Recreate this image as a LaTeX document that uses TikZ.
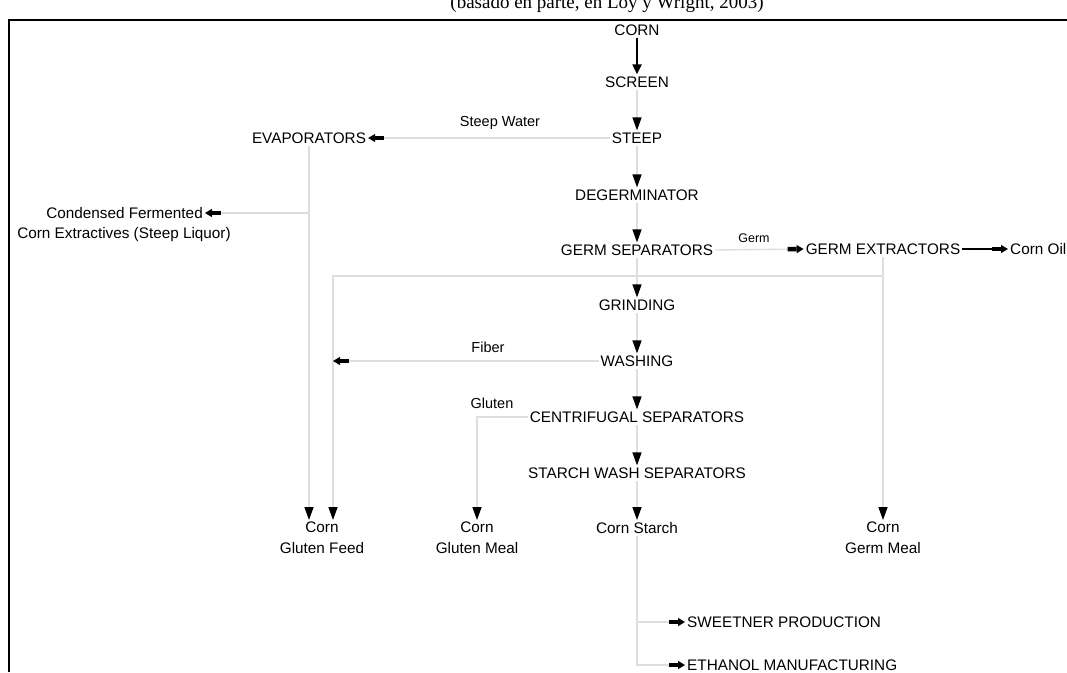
\documentclass[tikz,border=0pt]{standalone}
\usepackage{fontspec}
\setmainfont{Liberation Sans}
\newfontfamily\capfont{Liberation Serif}
\usetikzlibrary{arrows.meta}
\begin{document}
\begin{tikzpicture}[x=1pt,y=1pt,
  lbl/.style={font=\fontsize{15.3}{21}\selectfont, inner sep=2pt, align=center},
  small/.style={font=\fontsize{14.5}{16}\selectfont, inner sep=1pt},
  tiny/.style={font=\fontsize{12.5}{14}\selectfont, inner sep=1pt},
  faint/.style={draw=black!13, line width=1.4pt},
  tipdown/.style={-{Triangle[black,length=13pt,width=9pt]}},
  tipside/.style={-{Rectangle[black,length=9pt,width=4.5pt,sep=0pt]Triangle[black,length=7pt,width=8pt]}},
]
\useasboundingbox (0,0) rectangle (1067,-672);
\fill[white] (0,0) rectangle (1067,-672);

% caption (cut by the top edge)
\node[font=\capfont\fontsize{19}{20}\selectfont, anchor=base, inner sep=0pt] (cap) at (607,-8) {(basado en parte, en Loy y Wright, 2003)};

% frame
\draw[line width=2.5pt] (9,-672) -- (9,-20) -- (1067,-20);

% main column
\node[lbl] (corn) at (637,-30) {CORN};
\node[lbl] (screen) at (637,-82) {SCREEN};
\node[lbl] (steep) at (637,-138) {STEEP};
\node[lbl] (degerm) at (637,-195) {DEGERMINATOR};
\node[lbl] (germsep) at (637,-250) {GERM SEPARATORS};
\node[lbl] (grind) at (637,-305) {GRINDING};
\node[lbl] (wash) at (637,-361) {WASHING};
\node[lbl] (centrif) at (637,-417) {CENTRIFUGAL SEPARATORS};
\node[lbl] (starch) at (637,-473) {STARCH WASH SEPARATORS};
\node[lbl,anchor=north] (cstarch) at (637,-520) {Corn Starch};

% side nodes
\node[lbl] (evap) at (309,-138) {EVAPORATORS};
\node[lbl,anchor=east] (cond1) at (205,-213) {Condensed Fermented};
\node[lbl] (cond2) at (124,-235) {Corn Extractives (Steep Liquor)};
\node[lbl] (germext) at (883,-249) {GERM EXTRACTORS};
\node[lbl,anchor=west] (oil) at (1008,-249) {Corn Oil};
\node[lbl,anchor=north] (gfeed) at (322,-520) {Corn\\Gluten Feed};
\node[lbl,anchor=north] (gmeal) at (477,-520) {Corn\\Gluten Meal};
\node[lbl,anchor=north] (germmeal) at (883,-520) {Corn\\Germ Meal};
\node[lbl,anchor=west] (sweet) at (685,-622) {SWEETNER PRODUCTION};
\node[lbl,anchor=west] (eth) at (685,-665) {ETHANOL MANUFACTURING};

% labels
\node[small] (lsw) at (500,-123) {Steep Water};
\node[small] (lfib) at (488,-347) {Fiber};
\node[small] (lglu) at (492,-403) {Gluten};
\node[tiny] (lgerm) at (754,-238) {Germ};

% connectors
\draw[line width=2pt, -{Triangle[length=10pt,width=9pt]}] (corn) -- (screen);
\foreach \a/\b in {screen/steep, steep/degerm, degerm/germsep, germsep/grind, grind/wash, wash/centrif, centrif/starch, starch/cstarch}
  \draw[faint, tipdown] (\a) -- (\b);

\draw[faint, tipside] (steep.west) -- (evap.east);
\draw[faint, tipdown] (evap.south) -- (evap.south |- gfeed.north);
\coordinate (j1) at (evap.south |- cond1.east);
\draw[faint, tipside] (j1) -- (cond1.east);

\draw[faint, tipside] (germsep.east) -- (germext.west);
\draw[line width=1.3pt, tipside] (germext.east) -- (oil.west);
\draw[faint, tipdown] (germext.south) -- (germmeal.north);
\coordinate (j2) at (883,-276);
\coordinate (gfr) at ([xshift=11pt]gfeed.north);
\draw[faint, tipdown] (j2) -| (gfr);

\draw[faint, tipside] (wash.west) -- (gfr |- wash.west);
\draw[faint, tipdown] (centrif.west) -| (gmeal.north);

\draw[faint, tipside] (cstarch.south) |- (sweet.west);
\draw[faint, tipside] (cstarch.south) |- (eth.west);
\end{tikzpicture}
\end{document}
